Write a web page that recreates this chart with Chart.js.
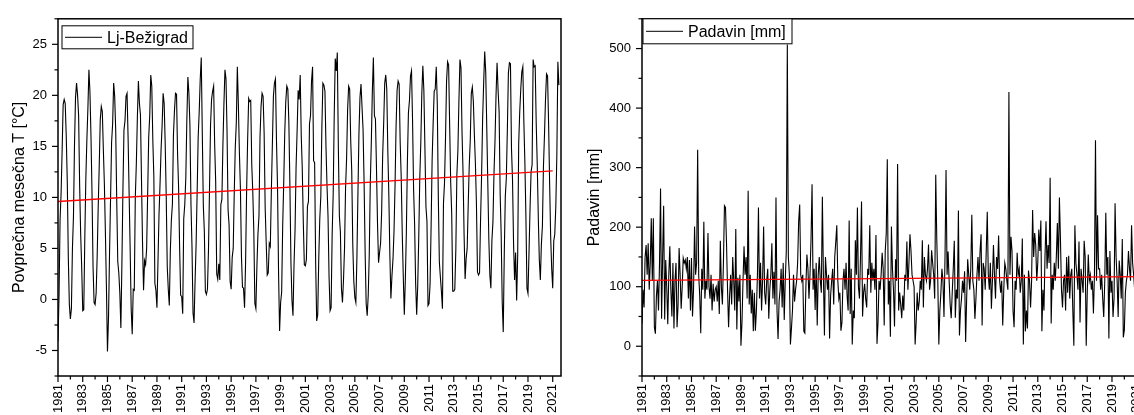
<!DOCTYPE html>
<html>
<head>
<meta charset="utf-8">
<script src="https://cdn.jsdelivr.net/npm/chart.js@4.4.1/dist/chart.umd.min.js"></script>
<style>
    html, body { margin: 0; padding: 0; background: #fff; overflow: hidden; }
    #wrap { position: relative; width: 1134px; height: 415px; overflow: hidden; }
    #tempBox { position: absolute; left: 0; top: 0; }
    #rainBox { position: absolute; left: 570px; top: 0; }
</style>
</head>
<body>
<div id="wrap">
    <div id="tempBox"><canvas id="tempChart" width="570" height="415"></canvas></div>
    <div id="rainBox"><canvas id="rainChart" width="580" height="415"></canvas></div>
</div>
<script>
const startYear = 1981;

// Monthly mean temperature, Ljubljana-Bežigrad (one row per year, Jan..Dec)
const temperature = [
    -4.1, 0.4, 7.8, 10.4, 14.6, 19.1, 19.6, 19.2, 16.0, 11.6, 4.1, -0.5,
    -1.9, -0.9, 5.0, 8.1, 15.1, 19.8, 21.2, 20.0, 18.0, 11.2, 6.4, 3.1,
    -1.1, -1.0, 6.0, 11.8, 15.6, 18.7, 22.5, 20.3, 16.0, 10.4, 3.2, -0.3,
    -0.5, 0.6, 4.2, 9.0, 13.1, 17.6, 18.9, 18.4, 14.7, 11.3, 6.5, 1.1,
    -5.1, -1.8, 4.5, 9.9, 15.4, 17.2, 21.2, 19.9, 16.5, 9.6, 3.7, 2.6,
    0.6, -2.8, 3.5, 10.8, 16.6, 17.5, 19.9, 20.2, 15.9, 10.4, 5.0, -0.9,
    -3.4, 1.0, 0.9, 10.0, 13.3, 17.8, 21.4, 19.2, 18.1, 11.8, 5.6, 0.9,
    3.8, 3.4, 5.0, 10.4, 15.9, 18.0, 22.0, 20.9, 15.6, 12.0, 1.6, 0.9,
    -0.8, 3.7, 8.3, 11.3, 14.7, 17.0, 20.2, 19.2, 15.3, 10.1, 3.2, 1.0,
    -0.6, 4.8, 7.8, 9.3, 16.1, 18.5, 20.2, 20.1, 14.3, 11.0, 5.1, 0.4,
    0.3, -1.4, 7.9, 9.3, 11.9, 17.5, 21.8, 20.2, 17.1, 9.4, 5.2, -1.3,
    -2.3, 1.8, 5.4, 10.5, 15.9, 18.4, 21.6, 23.7, 16.3, 9.2, 6.6, 0.8,
    0.5, 1.0, 4.8, 10.8, 17.1, 19.6, 20.4, 20.9, 15.2, 11.5, 2.5, 2.0,
    3.5, 1.9, 9.3, 9.8, 15.1, 19.2, 22.5, 21.6, 16.5, 8.8, 7.3, 1.8,
    1.0, 4.1, 5.0, 10.4, 14.9, 17.3, 22.8, 19.1, 14.4, 10.8, 4.2, 1.2,
    1.1, -0.8, 3.6, 10.6, 15.7, 19.7, 19.4, 19.5, 13.2, 10.5, 6.6, -0.4,
    -0.9, 3.3, 6.4, 8.2, 15.9, 18.9, 20.2, 19.9, 16.3, 9.0, 5.6, 2.4,
    2.6, 5.5, 5.2, 10.6, 15.2, 19.9, 21.2, 21.6, 15.5, 11.0, 2.6, -3.1,
    -0.3, 0.7, 7.2, 11.4, 16.3, 19.4, 20.9, 20.6, 17.3, 11.2, 3.7, -0.1,
    -1.6, 3.4, 6.8, 13.0, 16.5, 20.5, 19.6, 22.0, 16.1, 12.8, 7.6, 3.4,
    3.3, 3.9, 9.1, 9.6, 17.2, 18.0, 21.4, 22.8, 13.6, 13.4, 3.5, -2.1,
    -1.5, 4.0, 7.9, 10.1, 16.8, 21.2, 21.0, 20.4, 15.0, 11.2, 8.1, 2.2,
    -1.1, -0.8, 6.4, 10.3, 18.0, 23.6, 22.4, 24.2, 15.0, 8.2, 6.6, 1.1,
    -0.3, 1.9, 5.0, 10.9, 13.8, 18.6, 20.9, 20.6, 15.6, 12.6, 5.4, 1.8,
    0.2, -0.3, 4.0, 10.3, 16.3, 19.8, 21.1, 18.8, 16.6, 11.4, 4.6, -0.4,
    -1.6, 0.4, 4.4, 11.4, 15.4, 20.4, 23.7, 18.0, 17.7, 12.9, 7.5, 3.6,
    4.6, 5.5, 8.5, 14.1, 17.3, 21.2, 22.0, 20.6, 14.6, 10.2, 4.3, 0.1,
    2.3, 3.9, 6.6, 11.1, 16.9, 20.5, 21.4, 21.1, 15.4, 12.0, 6.5, 2.3,
    -1.5, 1.9, 6.6, 13.5, 18.3, 19.5, 21.9, 22.4, 17.6, 10.8, 7.4, 1.6,
    -1.5, 1.3, 6.0, 11.8, 15.3, 20.2, 22.9, 20.4, 14.9, 9.1, 7.6, -0.6,
    -0.4, 1.5, 7.1, 13.7, 17.3, 20.4, 20.6, 22.8, 19.2, 10.1, 3.7, 2.2,
    0.8, -0.9, 9.4, 11.4, 15.9, 21.4, 23.3, 23.0, 17.1, 11.5, 8.4, 0.8,
    0.8, 1.0, 4.9, 12.2, 14.6, 19.5, 23.5, 22.7, 16.4, 12.4, 6.4, 2.0,
    4.0, 5.0, 9.2, 13.1, 15.6, 20.2, 20.8, 19.4, 16.1, 13.3, 9.3, 2.7,
    2.4, 2.6, 7.8, 12.2, 17.7, 21.2, 24.3, 22.3, 16.9, 11.5, 6.0, 2.4,
    1.1, 5.8, 7.6, 12.3, 15.5, 20.0, 23.2, 20.5, 18.4, 10.4, 6.3, -0.2,
    -3.2, 4.5, 10.1, 11.9, 16.7, 22.2, 23.2, 23.1, 14.8, 11.7, 5.5, 1.9,
    4.6, -0.1, 4.2, 15.3, 18.4, 20.6, 22.3, 22.8, 17.4, 13.4, 8.1, 1.1,
    0.6, 4.6, 8.9, 12.5, 13.2, 23.5, 22.8, 22.9, 17.2, 13.2, 8.1, 3.9,
    1.9, 5.4, 7.2, 13.0, 16.1, 19.6, 22.1, 21.9, 17.3, 11.4, 6.2, 3.0,
    1.1, 5.7, 6.4, 9.1, 14.1, 23.3, 21.0
];

// Monthly precipitation [mm] (one row per year, Jan..Dec)
const precipitation = [
    38, 95, 65, 150, 170, 120, 173, 95, 140, 215, 110, 215,
    32, 21, 85, 110, 60, 140, 265, 46, 150, 236, 45, 145,
    100, 37, 120, 168, 95, 50, 140, 30, 110, 140, 32, 70,
    165, 120, 63, 100, 148, 140, 145, 130, 150, 80, 145, 60,
    148, 50, 95, 201, 120, 140, 330, 120, 85, 22, 130, 95,
    209, 80, 110, 95, 190, 100, 80, 120, 60, 105, 75, 95,
    100, 75, 110, 54, 177, 100, 70, 140, 236, 233, 173, 95,
    32, 85, 120, 70, 150, 110, 60, 197, 28, 115, 75, 120,
    1, 40, 110, 168, 120, 150, 80, 261, 70, 120, 55, 95,
    25, 90, 26, 60, 120, 233, 80, 140, 60, 110, 201, 90,
    70, 110, 130, 46, 95, 120, 173, 80, 125, 70, 250, 60,
    12, 75, 95, 130, 65, 140, 44, 110, 160, 507, 150, 120,
    3, 30, 60, 120, 75, 95, 110, 140, 210, 238, 120, 110,
    120, 25, 22, 100, 154, 130, 80, 120, 180, 272, 95, 130,
    61, 140, 35, 120, 150, 110, 90, 251, 120, 18, 150, 120,
    95, 120, 13, 85, 110, 130, 70, 150, 175, 203, 110, 80,
    90, 26, 40, 110, 130, 95, 140, 85, 60, 211, 54, 130,
    3, 60, 47, 178, 120, 233, 100, 80, 150, 243, 50, 90,
    105, 80, 65, 130, 120, 203, 90, 140, 110, 130, 95, 187,
    4, 40, 110, 95, 120, 157, 130, 35, 160, 190, 314, 70,
    110, 16, 201, 130, 95, 33, 146, 110, 306, 60, 90, 70,
    47, 85, 60, 120, 110, 176, 95, 140, 188, 160, 120, 110,
    100, 3, 40, 90, 60, 75, 110, 95, 178, 65, 150, 120,
    110, 130, 171, 95, 110, 161, 140, 120, 80, 288, 180, 110,
    3, 60, 90, 130, 110, 49, 150, 296, 120, 159, 110, 70,
    47, 90, 130, 177, 48, 95, 80, 228, 18, 60, 80, 110,
    90, 126, 7, 80, 146, 120, 95, 130, 221, 110, 95, 46,
    80, 120, 150, 110, 160, 188, 35, 140, 130, 95, 160, 226,
    120, 95, 140, 63, 110, 170, 120, 80, 150, 130, 186, 110,
    90, 110, 35, 95, 140, 130, 110, 95, 427, 120, 184, 160,
    60, 32, 110, 95, 157, 120, 130, 90, 110, 181, 3, 120,
    25, 60, 30, 127, 110, 65, 110, 229, 150, 190, 170, 110,
    140, 196, 160, 211, 25, 95, 60, 150, 210, 130, 170, 140,
    283, 38, 120, 95, 140, 110, 150, 207, 130, 250, 180, 95,
    65, 110, 120, 60, 150, 90, 152, 80, 120, 130, 60, 1,
    203, 140, 120, 95, 176, 40, 130, 110, 90, 177, 150, 1,
    90, 154, 110, 120, 95, 110, 55, 120, 346, 110, 220, 130,
    130, 95, 120, 80, 49, 110, 224, 120, 150, 13, 160, 90,
    110, 49, 80, 240, 150, 110, 49, 144, 120, 80, 180, 15,
    27, 90, 110, 120, 160, 130, 110, 203, 140, 120, 95, 110,
    120, 80, 60, 95, 140, 70, 130
];

// Linear trend lines (red), end points
const tempTrendYears = [1981, 2021];
const tempTrend = [9.6, 12.6];
const rainTrendYears = [1981, 2021.67];
const rainTrend = [110.5, 117];

Chart.defaults.font.family = '"Liberation Sans", Arial, sans-serif';
Chart.defaults.color = '#000';

const toMonthly = values => values.map((v, i) => ({ x: startYear + i / 12, y: v }));
const toPairs = (xs, ys) => xs.map((x, i) => ({ x: x, y: ys[i] }));

// frame around plot, Origin-style tick marks and a boxed legend
const originFrame = {
    id: 'originFrame',
    afterDraw(chart, args, opts) {
        const { ctx, chartArea: a, scales } = chart;
        ctx.save();
        ctx.strokeStyle = '#000';
        ctx.lineWidth = 1.5;
        ctx.strokeRect(a.left, a.top, a.right - a.left, a.bottom - a.top);

        ctx.lineWidth = 1.2;
        scales.x.ticks.forEach(t => {
            const px = scales.x.getPixelForValue(t.value);
            const len = t.label ? 6 : 3.5;
            ctx.beginPath();
            ctx.moveTo(px, a.bottom);
            ctx.lineTo(px, a.bottom + len);
            ctx.stroke();
        });
        scales.y.ticks.forEach(t => {
            const py = scales.y.getPixelForValue(t.value);
            const len = t.label ? 6 : 3.5;
            ctx.beginPath();
            ctx.moveTo(a.left, py);
            ctx.lineTo(a.left - len, py);
            ctx.stroke();
        });

        // legend box
        const b = opts.box;
        const bx = a.left + b.dx, by = a.top + b.dy;
        ctx.fillStyle = '#fff';
        ctx.fillRect(bx, by, b.w, b.h);
        ctx.lineWidth = 1;
        ctx.strokeRect(bx, by, b.w, b.h);
        ctx.beginPath();
        ctx.moveTo(bx + 3, by + b.h / 2);
        ctx.lineTo(bx + 40, by + b.h / 2);
        ctx.stroke();
        ctx.fillStyle = '#000';
        ctx.font = '16px "Liberation Sans", Arial, sans-serif';
        ctx.textBaseline = 'middle';
        ctx.fillText(chart.data.datasets[0].label, bx + 45, by + b.h / 2 + 1);
        ctx.restore();
    }
};

function buildOptions(yMin, yMax, yStep, yMajor, yTitle, yWidth, titlePad, padRight, box) {
    return {
        responsive: false,
        animation: false,
        layout: { padding: { top: 14, right: padRight, bottom: 0, left: 0 } },
        plugins: {
            legend: { display: false },
            tooltip: { enabled: false },
            originFrame: { box: box }
        },
        elements: { point: { radius: 0 } },
        scales: {
            x: {
                type: 'linear',
                min: 1981,
                max: 2021.67,
                afterFit: s => {
                    s.height = 39;
                    s.paddingLeft = 0;
                    s.paddingRight = 0;
                },
                grid: { display: false, drawTicks: false },
                border: { display: false },
                ticks: {
                    stepSize: 1,
                    includeBounds: false,
                    autoSkip: false,
                    minRotation: 90,
                    maxRotation: 90,
                    padding: 8,
                    font: { size: 13 },
                    callback: v => Math.round(v) % 2 === 1 ? String(v) : ''
                }
            },
            y: {
                min: yMin,
                max: yMax,
                afterFit: s => { s.width = yWidth; },
                grid: { display: false, drawTicks: false },
                border: { display: false },
                ticks: {
                    stepSize: yStep,
                    includeBounds: false,
                    padding: 11,
                    font: { size: 13 },
                    callback: v => v % yMajor === 0 ? String(v) : ''
                },
                title: {
                    display: true,
                    text: yTitle,
                    font: { size: 16 },
                    padding: { top: titlePad, bottom: 0 }
                }
            }
        }
    };
}

function createCharts() {
    new Chart(document.getElementById('tempChart').getContext('2d'), {
        type: 'line',
        data: {
            datasets: [
                {
                    label: 'Lj-Bežigrad',
                    data: toMonthly(temperature),
                    borderColor: '#000',
                    borderWidth: 1.1,
                    tension: 0,
                    order: 1
                },
                {
                    label: 'trend',
                    data: toPairs(tempTrendYears, tempTrend),
                    borderColor: '#ff0000',
                    borderWidth: 1.3,
                    order: 0
                }
            ]
        },
        options: buildOptions(-7.5, 27.5, 2.5, 5, 'Povprečna mesečna T [°C]', 58, 9.5, 9,
            { dx: 4, dy: 7, w: 131, h: 23 }),
        plugins: [originFrame]
    });

    new Chart(document.getElementById('rainChart').getContext('2d'), {
        type: 'line',
        data: {
            datasets: [
                {
                    label: 'Padavin [mm]',
                    data: toMonthly(precipitation),
                    borderColor: '#000',
                    borderWidth: 1.1,
                    tension: 0,
                    order: 1
                },
                {
                    label: 'trend',
                    data: toPairs(rainTrendYears, rainTrend),
                    borderColor: '#ff0000',
                    borderWidth: 1.3,
                    order: 0
                }
            ]
        },
        options: buildOptions(-50, 550, 50, 100, 'Padavin [mm]', 72, 15, 5,
            { dx: 1, dy: 0, w: 149, h: 25 }),
        plugins: [originFrame]
    });
}

createCharts();
</script>
</body>
</html>
